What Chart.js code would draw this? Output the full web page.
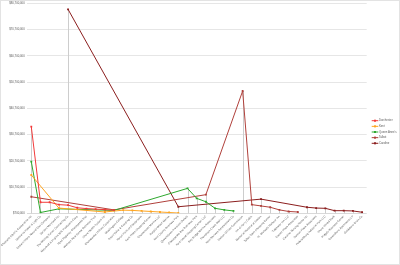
<!DOCTYPE html>
<html><head><meta charset="utf-8">
<script src="https://cdn.jsdelivr.net/npm/chart.js"></script>
<style>
html,body{margin:0;padding:0;background:#fff;}
#wrap{position:relative;width:400px;height:265px;}
#frame{position:absolute;left:0;top:0;width:400px;height:265px;box-sizing:border-box;border:1px solid #e3e3e3;pointer-events:none;}
canvas{display:block;}
</style></head><body>
<div id="wrap"><canvas id="c" width="400" height="265"></canvas><div id="frame"></div></div>
<script>
const categories = [
  "Choptank Electric Cooperative Inc","Delmarva Power & Light Co","Eastern Shore Natural Gas Company",
  "Verizon Maryland Inc","The Whiting-Turner Contracting Co","Maryland & Virginia Milk Producers Coop",
  "Hyatt Regency Chesapeake Bay","Walmart Real Estate Business Trust","Shore Health System Inc",
  "Chesapeake Utilities Corporation","Washington College","Dixon Valve & Coupling Co",
  "Heron Point of Chestertown","Kent Plaza Shopping Center","Chestertown Marina LLC",
  "Rolph's Wharf Marina","Kent County Business Park","Queenstown Premium Outlets",
  "Chesapeake Bay Business Park","Kent Island Shopping Center LLC","Bay Bridge Marina Associates",
  "Thompson Creek Mall LLC","Kent Narrows Development Co","Easton Utilities Commission",
  "Inn at Perry Cabin","Memorial Hospital at Easton","Talbot Town Shopping Center",
  "St. Michaels Harbour Inn","Tidewater Inn LLC","Easton Plaza Associates",
  "Caroline Nursing Home Inc","Denton Plaza Associates","Federalsburg Industrial Park LLC",
  "Shore United Bank","Ridgely Business Center","Greensboro Apartments LP","Goldsboro Grain Co"
];
const seriesNames = ["Dorchester","Kent","Queen Anne's","Talbot","Caroline"];
const seriesColors = ["#f23a3a","#ffa51f","#2ea82e","#b0403b","#8b1e1e"];

// category index / value pairs for each series
const dorchesterAt = [0,1,2,3,4,5,6,7,8,9];
const dorchesterValues = [33700000,4900000,4900000,4000000,3800000,2800000,2500000,2300000,2100000,1900000];
const kentAt = [0,3,8,10,11,12,13,14,15,16];
const kentValues = [15300000,2700000,1200000,1900000,1800000,1600000,1400000,1200000,1000000,800000];
const queenAnnesAt = [0,1,3,9,17,18,19,20,21,22];
const queenAnnesValues = [20400000,1000000,2400000,1800000,10200000,6400000,5100000,2600000,2000000,1600000];
const talbotAt = [0,9,19,23,24,25,26,27,28,29];
const talbotValues = [7000000,2000000,7800000,47300000,4000000,3500000,3000000,2000000,1400000,1200000];
const carolineAt = [4,16,25,30,31,32,33,34,35,36];
const carolineValues = [78400000,3200000,6100000,3000000,2700000,2600000,1700000,1700000,1600000,1100000];

const yTicks = [700000,10700000,20700000,30700000,40700000,50700000,60700000,70700000,80700000];

function fullSeries(at, vals){
  const arr = categories.map(()=>null);
  at.forEach((idx,k)=>{ arr[idx] = vals[k]; });
  return arr;
}
const seriesData = [
  fullSeries(dorchesterAt, dorchesterValues),
  fullSeries(kentAt, kentValues),
  fullSeries(queenAnnesAt, queenAnnesValues),
  fullSeries(talbotAt, talbotValues),
  fullSeries(carolineAt, carolineValues)
];

Chart.defaults.font.family = '"Liberation Sans", Arial, sans-serif';

const dropLines = {
  id:'dropLines',
  beforeDatasetsDraw(chart){
    const {ctx, chartArea, scales:{x,y}} = chart;
    ctx.save(); ctx.strokeStyle='#cdcdcd'; ctx.lineWidth=1;
    categories.forEach((c,i)=>{
      let m=null;
      chart.data.datasets.forEach(ds=>{const v=ds.data[i]; if(v!=null && (m==null||v>m)) m=v;});
      if(m==null) return;
      const px=Math.round(x.getPixelForValue(i))+0.5;
      ctx.beginPath(); ctx.moveTo(px, y.getPixelForValue(m)); ctx.lineTo(px, chartArea.bottom); ctx.stroke();
    });
    ctx.restore();
  }
};

const sideLegend = {
  id:'sideLegend',
  afterDraw(chart){
    const ctx=chart.ctx; const ca=chart.chartArea;
    ctx.save();
    ctx.font = '2.8px "Liberation Sans", Arial, sans-serif';
    ctx.textBaseline='middle'; ctx.textAlign='left';
    const x0 = ca.right + 5;
    const top = 120.7, step = 5.65;
    chart.data.datasets.forEach((ds,k)=>{
      const yy = top + k*step;
      ctx.strokeStyle=ds.borderColor; ctx.lineWidth=1;
      ctx.beginPath(); ctx.moveTo(x0,yy); ctx.lineTo(x0+6.6,yy); ctx.stroke();
      ctx.fillStyle=ds.borderColor; ctx.fillRect(x0+2.3,yy-1,2,2);
      ctx.fillStyle='#595959'; ctx.fillText(ds.label, x0+7.2, yy);
    });
    ctx.restore();
  }
};

new Chart(document.getElementById('c'), {
  type:'line',
  data:{
    labels: categories,
    datasets: seriesNames.map((n,k)=>({
      label:n, data:seriesData[k], borderColor:seriesColors[k], backgroundColor:seriesColors[k],
      pointBackgroundColor:seriesColors[k], spanGaps:true, fill:false
    }))
  },
  options:{
    responsive:false, animation:false,
    layout:{padding:{top:3.3,right:33.3,bottom:0,left:0}},
    plugins:{legend:{display:false}, tooltip:{enabled:false}},
    elements:{line:{borderWidth:1,tension:0}, point:{pointStyle:'rect',radius:1.3,borderWidth:0,hoverRadius:1.3}},
    scales:{
      x:{type:'category', offset:true,
         grid:{display:false, drawTicks:false}, border:{display:false},
         ticks:{autoSkip:false, maxRotation:45, minRotation:45, padding:1.5, color:'#595959', font:{size:2.8}},
         afterFit(s){ s.height=51.7; s.paddingLeft=0; s.paddingRight=0; }},
      y:{min:700000, max:80700000,
         grid:{color:(c)=> c.index===0 ? '#d9d9d9' : '#e6e6e6', drawTicks:false, lineWidth:1},
         border:{display:false},
         ticks:{padding:2, color:'#595959', font:{size:2.8}, callback:v=>'$'+Number(v).toLocaleString('en-US')},
         afterBuildTicks(s){ s.ticks = yTicks.map(v=>({value:v})); },
         afterFit(s){ s.width=26.7; s.paddingTop=0; s.paddingBottom=0; }}
    }
  },
  plugins:[dropLines, sideLegend]
});
</script>
</body></html>
